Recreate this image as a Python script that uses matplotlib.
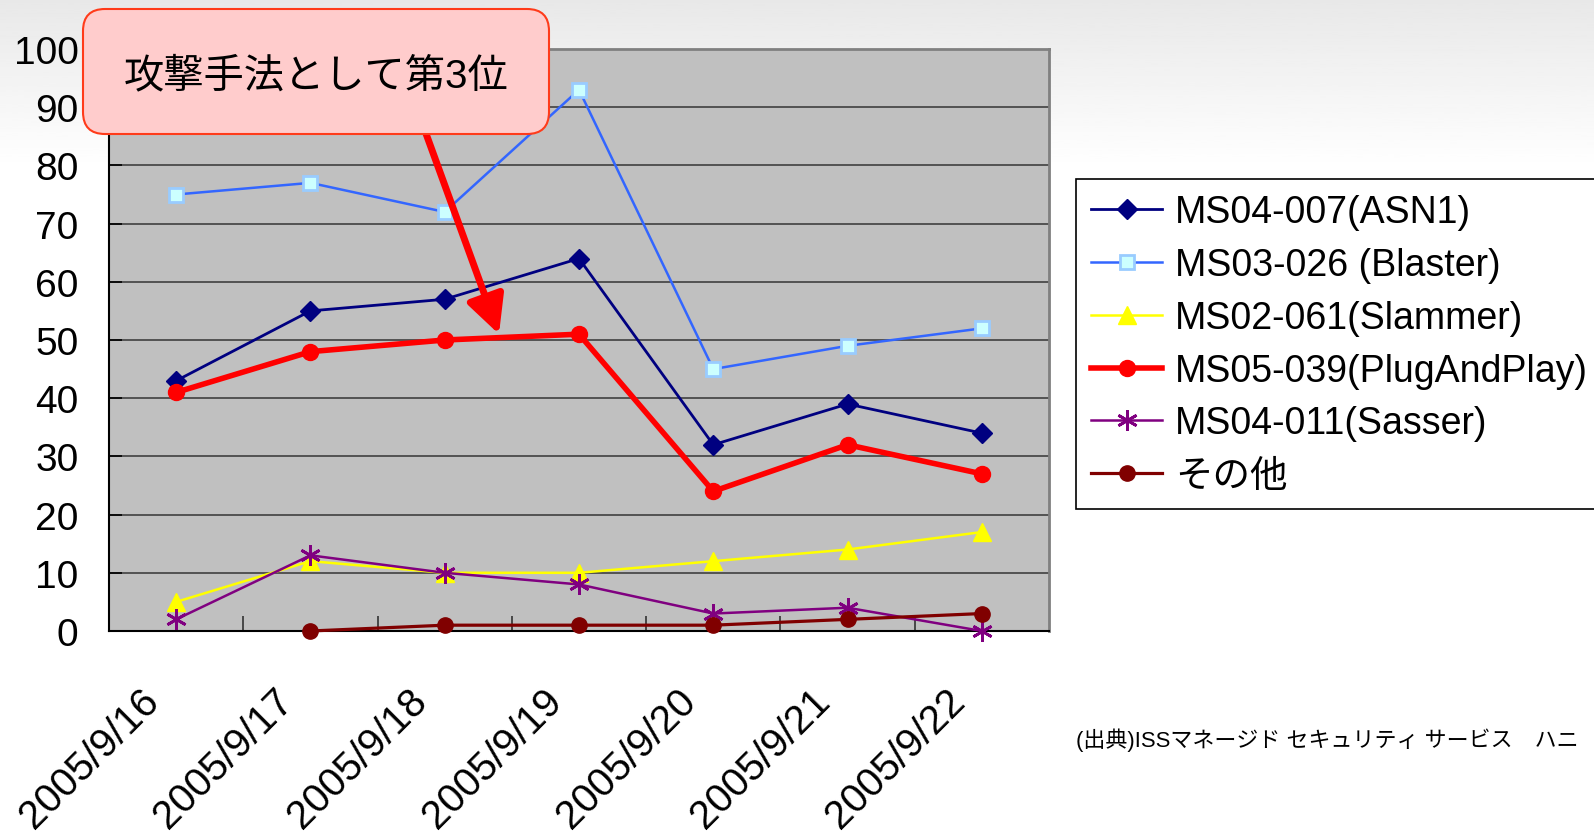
import numpy as np
import matplotlib
matplotlib.use('Agg')
import matplotlib.pyplot as plt
import matplotlib.transforms as mtransforms
from matplotlib.patches import FancyBboxPatch

plt.rcParams['font.family'] = ['Liberation Sans', 'Noto Sans CJK JP']

# data
dates = ['2005/9/16', '2005/9/17', '2005/9/18', '2005/9/19',
         '2005/9/20', '2005/9/21', '2005/9/22']
asn1 = [43, 55, 57, 64, 32, 39, 34]
blaster = [75, 77, 72, 93, 45, 49, 52]
slammer = [5, 12, 10, 10, 12, 14, 17]
plugandplay = [41, 48, 50, 51, 24, 32, 27]
sasser = [2, 13, 10, 8, 3, 4, 0]
other = [np.nan, 0, 1, 1, 1, 2, 3]

labels = ['MS04-007(ASN1)', 'MS03-026 (Blaster)', 'MS02-061(Slammer)',
          'MS05-039(PlugAndPlay)', 'MS04-011(Sasser)', 'その他']
callout = '攻撃手法として第3位'
source = '(出典)ISSマネージド セキュリティ サービス　ハニ'

fig = plt.figure(figsize=(15.94, 8.37), dpi=100)

# light slide background fading at the top
bg = fig.add_axes([0, 0, 1, 1], zorder=-10)
bg.axis('off')
shade = np.clip(np.linspace(-4, 1, 300), 0, 1)
shade = 0.91 + 0.09 * (1 - shade)
bg.imshow(shade[:, None], cmap='gray', vmin=0, vmax=1, aspect='auto',
          extent=[0, 1, 0, 1], origin='lower')

ax = fig.add_axes([109 / 1594, 1 - 632 / 837, 940 / 1594, 582 / 837])
ax.set_facecolor('#C0C0C0')
x = np.arange(len(dates))

l1, = ax.plot(x, asn1, color='#000080', lw=2, marker='D', ms=10, clip_on=False, zorder=3)
l2, = ax.plot(x, blaster, color='#3366FF', lw=1.8, marker='s', ms=10,
              mfc='#CCFFFF', mec='#99CCFF', mew=2, clip_on=False, zorder=3)
l3, = ax.plot(x, slammer, color='#FFFF00', lw=1.8, marker='^', ms=13, clip_on=False, zorder=3)
l4, = ax.plot(x, plugandplay, color='#FF0000', lw=4, marker='o', ms=11.5, clip_on=False, zorder=3)
l5, = ax.plot(x, sasser, color='#800080', lw=1.8, marker=(6, 2, 0), ms=15, mew=2,
              clip_on=False, zorder=3)
l6, = ax.plot(x, other, color='#800000', lw=2.3, marker='o', ms=11, clip_on=False, zorder=3)

ax.set_xlim(-0.5, 6.5)
ax.set_ylim(0, 100)
ax.set_yticks(range(0, 101, 10))
ax.yaxis.grid(True, color='#404040', lw=1.2)
ax.set_axisbelow(True)

ax.set_xticks(x)
ax.set_xticklabels(dates, rotation=45, ha='right', va='top', fontsize=29)
ax.set_xticks(np.arange(0.5, 6.5, 1), minor=True)
ax.tick_params(axis='x', which='major', length=0, pad=36)
ax.tick_params(axis='x', which='minor', direction='in', length=11, width=1.2, color='#333333')
ax.tick_params(axis='y', direction='in', length=9, width=1.2, labelsize=28, pad=22)
shift = mtransforms.ScaledTranslation(-10 / 100, 0, fig.dpi_scale_trans)
for lbl in ax.get_xticklabels():
    lbl.set_transform(lbl.get_transform() + shift)

for s in ['left', 'bottom']:
    ax.spines[s].set_color('black')
    ax.spines[s].set_linewidth(1.5)
for s in ['top', 'right']:
    ax.spines[s].set_color('#808080')
    ax.spines[s].set_linewidth(2)

leg = fig.legend([l1, l2, l3, l4, l5, l6], labels, loc='upper left',
                 bbox_to_anchor=(1076 / 1594, 1 - 180 / 837), bbox_transform=fig.transFigure,
                 fontsize=27, frameon=True, fancybox=False, edgecolor='black',
                 facecolor='white', framealpha=1, borderpad=0.4, labelspacing=0.45,
                 handlelength=1.9, handletextpad=0.35, borderaxespad=0)
leg.get_frame().set_linewidth(1.2)

# callout arrow and box
ax.annotate('', xy=(2.404, 51.0), xytext=(1.786, 90.2),
            arrowprops=dict(arrowstyle='-|>,head_length=1.15,head_width=0.58',
                            color='#FF0000', lw=5, mutation_scale=20,
                            shrinkA=0, shrinkB=0),
            annotation_clip=False, zorder=6)

box = FancyBboxPatch((0.83, 7.02), 4.66, 1.25,
                     boxstyle='round,pad=0,rounding_size=0.22',
                     transform=fig.dpi_scale_trans, fc='#FFCCCC', ec='#FF3B1A',
                     lw=1.5, zorder=10)
fig.add_artist(box)
fig.text(316 / 1594, 1 - 76 / 837, callout, ha='center', va='center',
         fontsize=29, zorder=11)

fig.text(1076 / 1594, 1 - 740 / 837, source, ha='left', va='center', fontsize=15.8)

fig.savefig('out.png', dpi=100)
